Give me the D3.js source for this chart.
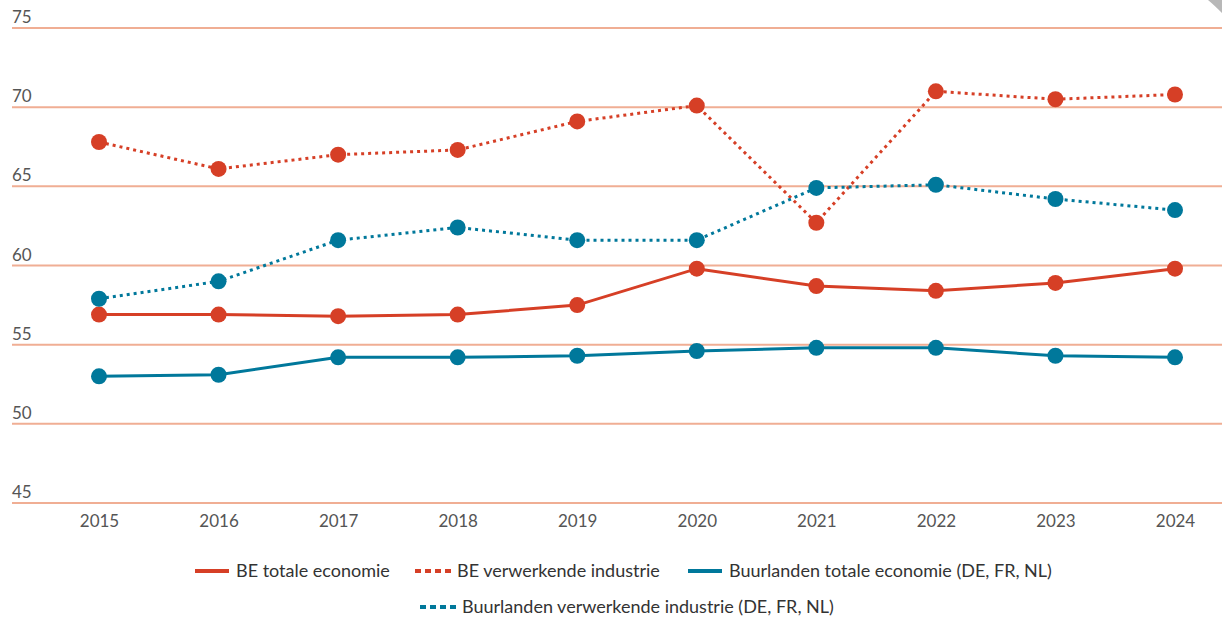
<!DOCTYPE html>
<html>
<head>
<meta charset="utf-8">
<script src="https://cdn.jsdelivr.net/npm/d3@7"></script>
<style>
  body { margin: 0; background: #fff; }
  svg { display: block; font-family: Lato, "Open Sans", sans-serif; }
</style>
</head>
<body>
<div id="chart"></div>
<script>
const years = [2015, 2016, 2017, 2018, 2019, 2020, 2021, 2022, 2023, 2024];
const yTicks = [45, 50, 55, 60, 65, 70, 75];

const beTotaal = [56.9, 56.9, 56.8, 56.9, 57.5, 59.8, 58.7, 58.4, 58.9, 59.8];
const beIndustrie = [67.8, 66.1, 67.0, 67.3, 69.1, 70.1, 62.7, 71.0, 70.5, 70.8];
const buurTotaal = [53.0, 53.1, 54.2, 54.2, 54.3, 54.6, 54.8, 54.8, 54.3, 54.2];
const buurIndustrie = [57.9, 59.0, 61.6, 62.4, 61.6, 61.6, 64.9, 65.1, 64.2, 63.5];

const red = "#d63f26", teal = "#00789b";

const series = [
  {name: "BE totale economie", values: beTotaal, color: red, dotted: false},
  {name: "BE verwerkende industrie", values: beIndustrie, color: red, dotted: true},
  {name: "Buurlanden totale economie (DE, FR, NL)", values: buurTotaal, color: teal, dotted: false},
  {name: "Buurlanden verwerkende industrie (DE, FR, NL)", values: buurIndustrie, color: teal, dotted: true}
];

const W = 1222, H = 617;
const svg = d3.select("#chart").append("svg").attr("width", W).attr("height", H);

const x = d3.scalePoint().domain(years).range([99, 1175]);
const y = d3.scaleLinear().domain([45, 75]).range([503, 28]);

// grid lines + labels
const grid = svg.append("g");
yTicks.forEach(t => {
  grid.append("line")
    .attr("x1", 12).attr("x2", W)
    .attr("y1", y(t)).attr("y2", y(t))
    .attr("stroke", "#f0ae94").attr("stroke-width", 2);
  grid.append("text")
    .attr("x", 12).attr("y", y(t) - 5)
    .attr("fill", "#555").attr("font-size", 17)
    .text(t);
});

// x axis labels
const xAxis = svg.append("g")
  .attr("transform", `translate(0, ${y(45)})`)
  .call(d3.axisBottom(x).tickSize(0).tickPadding(12));
xAxis.select(".domain").remove();
xAxis.selectAll("text").attr("font-family", "Lato, sans-serif").attr("font-size", 17).attr("fill", "#555");

const line = d3.line()
  .x((d, i) => x(years[i]))
  .y(d => y(d));

series.forEach(s => {
  svg.append("path")
    .datum(s.values)
    .attr("fill", "none")
    .attr("stroke", s.color)
    .attr("stroke-width", 3)
    .attr("stroke-dasharray", s.dotted ? "3,4" : null)
    .attr("d", line);
});
series.forEach(s => {
  svg.append("g").selectAll("circle")
    .data(s.values)
    .join("circle")
    .attr("cx", (d, i) => x(years[i]))
    .attr("cy", d => y(d))
    .attr("r", 8)
    .attr("fill", s.color);
});

// legend
const legendPos = [
  {x: 195, y: 571, tx: 41}, {x: 415, y: 571, tx: 42},
  {x: 688, y: 571, tx: 41}, {x: 420, y: 607, tx: 42}
];
series.forEach((s, i) => {
  const p = legendPos[i];
  const g = svg.append("g").attr("transform", `translate(${p.x}, ${p.y})`);
  g.append("line")
    .attr("x1", 0).attr("x2", s.dotted ? 36 : 34)
    .attr("y1", 0).attr("y2", 0)
    .attr("stroke", s.color).attr("stroke-width", 4)
    .attr("stroke-dasharray", s.dotted ? "6,4" : null);
  g.append("text")
    .attr("x", p.tx).attr("y", 6)
    .attr("fill", "#333").attr("font-size", 18)
    .text(s.name);
});

// grey page-curl corner
svg.append("path")
  .attr("d", "M1208,0 L1222,0 L1222,13 Q1214,5 1208,0 Z")
  .attr("fill", "#b8b8b8");
</script>
</body>
</html>
